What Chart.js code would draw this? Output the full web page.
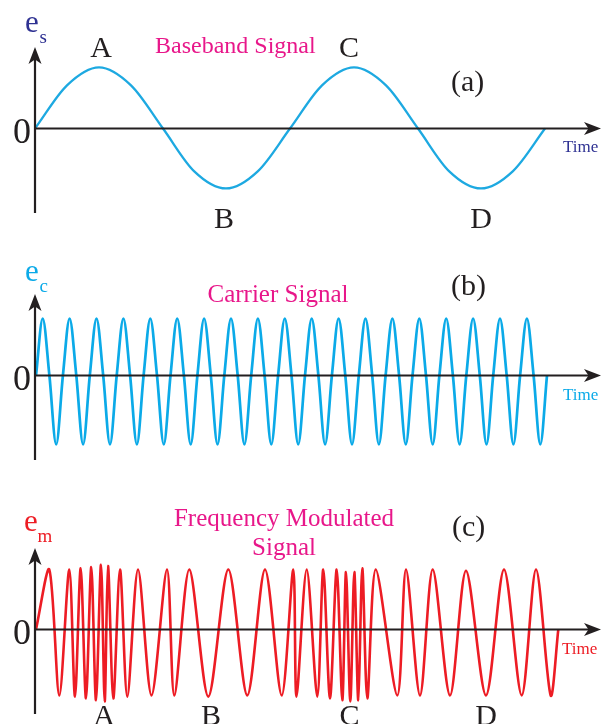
<!DOCTYPE html>
<html>
<head>
<meta charset="utf-8">
<script src="https://cdn.jsdelivr.net/npm/chart.js@4.4.1/dist/chart.umd.min.js"></script>
<style>
  html, body { margin: 0; padding: 0; background: #fff; }
  #wrap { position: relative; width: 603px; height: 724px; overflow: hidden; }
  #wrap canvas { position: absolute; left: 0; }
</style>
</head>
<body>
<div id="wrap">
  <canvas id="chartA" width="603" height="241" style="top:0px"></canvas>
  <canvas id="chartB" width="603" height="241" style="top:241px"></canvas>
  <canvas id="chartC" width="603" height="242" style="top:482px"></canvas>
</div>
<script>
// ---- data (time in arbitrary units along the axis, amplitude in signal units) ----
const markLabels = ['A', 'B', 'C', 'D'];

const basebandTime  = [0, 32, 64, 96, 128, 159, 191, 223, 255, 287, 319, 351, 383, 414, 446, 478, 510];
const basebandValue = [0, 0.72, 1.02, 0.72, 0, -0.71, -1.0, -0.71, 0, 0.72, 1.02, 0.72, 0, -0.71, -1.0, -0.71, 0];
const basebandMarkTime = [66, 189, 314, 446];

const carrierTime = [
  1.0, 7.7, 14.4, 21.2, 27.9, 34.6, 41.3, 48.1, 54.8, 61.5,
  68.2, 75.0, 81.7, 88.4, 95.1, 101.9, 108.6, 115.3, 122.0, 128.8,
  135.5, 142.2, 148.9, 155.7, 162.4, 169.1, 175.8, 182.5, 189.3, 196.0,
  202.7, 209.4, 216.2, 222.9, 229.6, 236.3, 243.1, 249.8, 256.5, 263.2,
  270.0, 276.7, 283.4, 290.1, 296.9, 303.6, 310.3, 317.0, 323.8, 330.5,
  337.2, 343.9, 350.6, 357.4, 364.1, 370.8, 377.5, 384.3, 391.0, 397.7,
  404.4, 411.2, 417.9, 424.6, 431.3, 438.1, 444.8, 451.5, 458.2, 465.0,
  471.7, 478.4, 485.1, 491.9, 498.6, 505.3, 512.0
];
const carrierValue = [
  0, 0.95, 0, -1.15, 0, 0.95, 0, -1.15, 0, 0.95,
  0, -1.15, 0, 0.95, 0, -1.15, 0, 0.95, 0, -1.15,
  0, 0.95, 0, -1.15, 0, 0.95, 0, -1.15, 0, 0.95,
  0, -1.15, 0, 0.95, 0, -1.15, 0, 0.95, 0, -1.15,
  0, 0.95, 0, -1.15, 0, 0.95, 0, -1.15, 0, 0.95,
  0, -1.15, 0, 0.95, 0, -1.15, 0, 0.95, 0, -1.15,
  0, 0.95, 0, -1.15, 0, 0.95, 0, -1.15, 0, 0.95,
  0, -1.15, 0, 0.95, 0, -1.15, 0
];

const fmTime = [
  1, 14.3, 24.3, 34.3, 40, 45.7, 51, 56.3, 61, 66,
  69.7, 73, 78.3, 85, 92.3, 103, 116.5, 132, 139.3, 154.3,
  173.3, 193.3, 212.3, 230, 246.7, 258.3, 261.5, 271.7, 282.3, 288.3,
  295, 301.7, 307.3, 311, 315.3, 319.3, 323.3, 327.3, 332.3, 340.7,
  362.3, 371, 385, 397.7, 415, 431, 451, 469, 486.7, 501,
  515.7, 523.3
];
const fmValue = [
  0, 1.0, -1.1, 1.0, -1.12, 1.02, -1.15, 1.04, -1.18, 1.08,
  -1.2, 1.06, -1.15, 1.0, -1.12, 1.0, -1.1, 1.0, -1.1, 1.0,
  -1.12, 1.0, -1.1, 1.0, -1.1, 1.0, -1.12, 1.0, -1.12, 1.0,
  -1.15, 1.0, -1.18, 0.96, -1.2, 0.96, -1.18, 1.02, -1.15, 1.0,
  -1.1, 1.0, -1.1, 1.0, -1.1, 0.98, -1.1, 1.0, -1.1, 1.0,
  -1.1, 0
];
const fmMarkTime = [69, 176, 314.5, 451];

// ---- drawing helpers ----
const SERIF = "'Liberation Serif', 'DejaVu Serif', serif";
const INK = '#231F20';
const PINK = '#E8178A';

function toPoints(xs, ys) {
  return xs.map((t, i) => ({ x: t, y: ys[i] }));
}

function arrowHead(ctx, x, y, dir) {
  ctx.beginPath();
  if (dir === 'up') {
    ctx.moveTo(x, y);
    ctx.lineTo(x + 6.5, y + 17);
    ctx.lineTo(x, y + 12.5);
    ctx.lineTo(x - 6.5, y + 17);
  } else {
    ctx.moveTo(x, y);
    ctx.lineTo(x - 17, y + 6.5);
    ctx.lineTo(x - 12.5, y);
    ctx.lineTo(x - 17, y - 6.5);
  }
  ctx.closePath();
  ctx.fill();
}

const decor = {
  id: 'decor',
  afterDatasetsDraw(chart, args, opts) {
    const { ctx, chartArea: area, scales: { x, y } } = chart;
    const x0 = x.getPixelForValue(0);
    const y0 = y.getPixelForValue(0);
    const top = opts.top; // canvas offset on the page

    ctx.save();
    ctx.strokeStyle = INK;
    ctx.fillStyle = INK;
    ctx.lineWidth = 2.2;
    ctx.beginPath();
    ctx.moveTo(x0, area.bottom);
    ctx.lineTo(x0, area.top + 10);
    ctx.stroke();
    arrowHead(ctx, x0, area.top, 'up');
    ctx.beginPath();
    ctx.moveTo(x0, y0);
    ctx.lineTo(area.right - 10, y0);
    ctx.stroke();
    arrowHead(ctx, area.right, y0, 'right');

    ctx.textBaseline = 'alphabetic';
    opts.texts.forEach(t => {
      ctx.font = t.size + 'px ' + SERIF;
      ctx.fillStyle = t.color;
      ctx.textAlign = t.align || 'left';
      ctx.fillText(t.text, t.x, t.y - top);
    });

    // A/B/C/D markers sit over the signal's peaks and troughs
    ctx.font = '30px ' + SERIF;
    ctx.fillStyle = INK;
    ctx.textAlign = 'center';
    (opts.marks || []).forEach(m => {
      ctx.fillText(m.text, x.getPixelForValue(m.t), m.y - top);
    });
    ctx.restore();
  }
};

function makeChart(id, points, color, curve, pad, top, texts, marks) {
  return new Chart(document.getElementById(id), {
    type: 'line',
    data: {
      datasets: [{
        data: points,
        borderColor: color,
        borderWidth: curve.width,
        pointRadius: 0,
        tension: curve.tension,
        cubicInterpolationMode: curve.mode,
        fill: false
      }]
    },
    options: {
      responsive: false,
      animation: false,
      layout: { padding: pad },
      scales: {
        x: { type: 'linear', min: 0, max: 566, display: false },
        y: { min: -1.41, max: 1.36, display: false }
      },
      plugins: {
        legend: { display: false },
        tooltip: { enabled: false },
        decor: { top: top, texts: texts, marks: marks }
      }
    },
    plugins: [decor]
  });
}

// (a) baseband
makeChart('chartA', toPoints(basebandTime, basebandValue), '#1DA9E1', { tension: 0.4, mode: 'monotone', width: 2.3 },
  { left: 35, right: 2, top: 47, bottom: 28 }, 0,
  [
    { text: 'e', size: 31, color: '#2E3192', x: 25, y: 32 },
    { text: 's', size: 19, color: '#2E3192', x: 39.5, y: 43 },
    { text: 'Baseband Signal', size: 24, color: PINK, x: 155, y: 53 },
    { text: '(a)', size: 30, color: INK, x: 451, y: 91 },
    { text: '0', size: 36, color: INK, x: 31, y: 143, align: 'right' },
    { text: 'Time', size: 17, color: '#2E3192', x: 563, y: 152 }
  ],
  markLabels.map((l, i) => ({ text: l, t: basebandMarkTime[i], y: i % 2 ? 228 : 57 }))
);

// (b) carrier
makeChart('chartB', toPoints(carrierTime, carrierValue), '#0BAAE8', { tension: 0.4, mode: 'monotone', width: 2.7 },
  { left: 35, right: 2, top: 53, bottom: 22 }, 241,
  [
    { text: 'e', size: 31, color: '#0BAAE8', x: 25, y: 281 },
    { text: 'c', size: 19, color: '#0BAAE8', x: 39.5, y: 292 },
    { text: 'Carrier Signal', size: 25, color: PINK, x: 207.5, y: 302 },
    { text: '(b)', size: 30, color: INK, x: 451, y: 295 },
    { text: '0', size: 36, color: INK, x: 31, y: 390, align: 'right' },
    { text: 'Time', size: 17, color: '#0BAAE8', x: 563, y: 400 }
  ],
  []
);

// (c) frequency modulated
makeChart('chartC', toPoints(fmTime, fmValue), '#ED1C24', { tension: 0.3, mode: 'default', width: 2.6 },
  { left: 35, right: 2, top: 66, bottom: 10 }, 482,
  [
    { text: 'e', size: 31, color: '#ED1C24', x: 24, y: 531 },
    { text: 'm', size: 19, color: '#ED1C24', x: 37.5, y: 542 },
    { text: 'Frequency Modulated', size: 25, color: PINK, x: 284, y: 526, align: 'center' },
    { text: 'Signal', size: 25, color: PINK, x: 284, y: 555, align: 'center' },
    { text: '(c)', size: 30, color: INK, x: 452, y: 536 },
    { text: '0', size: 36, color: INK, x: 31, y: 644, align: 'right' },
    { text: 'Time', size: 17, color: '#ED1C24', x: 562, y: 654 }
  ],
  markLabels.map((l, i) => ({ text: l, t: fmMarkTime[i], y: 725 }))
);
</script>
</body>
</html>
